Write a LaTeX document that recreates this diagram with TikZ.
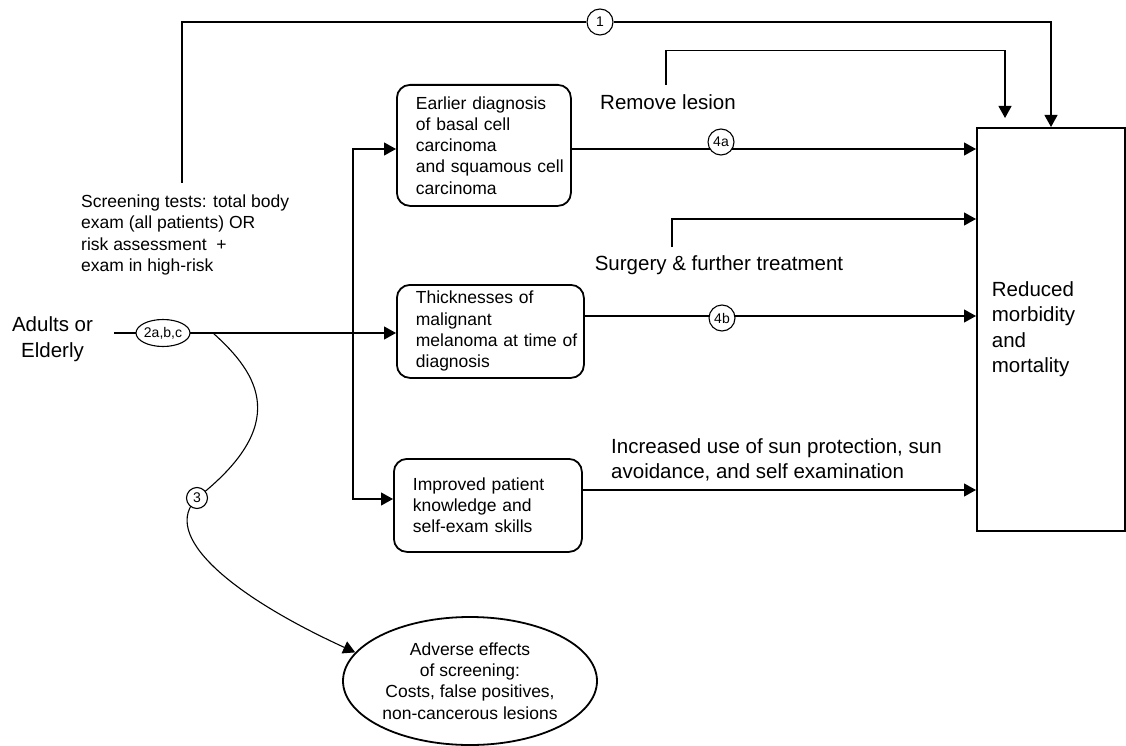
\documentclass[tikz,border=0pt]{standalone}
\usepackage{fontspec}
\setmainfont{Liberation Sans}
\usetikzlibrary{arrows.meta,shapes.geometric}
\pgfdeclarelayer{bg}
\pgfsetlayers{bg,main}
\begin{document}
\begin{tikzpicture}[x=1pt,y=-1pt,
  conn/.style={line width=1.1pt},
  arr/.style={conn,-{Triangle[length=12pt,width=13pt]}},
  big/.style={font=\fontsize{20.5}{25.5}\selectfont,inner sep=0pt},
  med/.style={font=\fontsize{17.5}{21.3}\selectfont,inner sep=0pt},
  box/.style={draw,line width=1.8pt,rounded corners=13pt,anchor=north west,align=left,med,inner xsep=19pt,inner ysep=0pt},
  num/.style={draw,circle,fill=white,line width=1.1pt,inner sep=0pt,minimum size=26pt,font=\fontsize{14}{14}\selectfont},
]
\useasboundingbox (0,0) rectangle (1126,746);

% boxes
\node[box,text width=136pt,minimum height=121pt] (b1) at (396,84)
  {Earlier diagnosis\\of basal cell\\carcinoma\\\mbox{and squamous cell}\\carcinoma};
\node[box,text width=149pt,minimum height=93pt] (b2) at (396,284)
  {Thicknesses of\\malignant\\\mbox{melanoma at time of}\\diagnosis};
\node[box,text width=150pt,minimum height=93pt] (b3) at (393,458)
  {Improved patient\\knowledge and\\self-exam skills};
\node[draw,line width=1.8pt,anchor=north west,big,minimum width=148pt,minimum height=403pt,
      text width=118pt,inner xsep=15pt,align=left] (red) at (976,127)
  {Reduced\\morbidity\\and\\mortality};
\node[draw,ellipse,line width=1.8pt,minimum width=254pt,minimum height=128pt,med,align=center] (adv) at (470,681)
  {Adverse effects\\of screening:\\Costs, false positives,\\non-cancerous lesions};

% texts
\node[med,align=left,anchor=west] (screen) at (81,235)
  {Screening tests: total body\\exam (all patients) OR\\risk assessment\ \ +\\exam in high-risk};
\node[big,align=center] (adults) at (52.5,339) {Adults or\\Elderly};
\node[big] (remove) at (668,102) {Remove lesion};
\node[big] (surg) at (719,265) {Surgery \& further treatment};
\node[big,align=left,anchor=west] (incr) at (611,460)
  {Increased use of sun protection, sun\\avoidance, and self examination};

% numbered markers
\node[draw,ellipse,fill=white,line width=1.1pt,minimum width=52pt,minimum height=27pt,inner sep=0pt,
      font=\fontsize{14}{14}\selectfont] (c2) at (163,333) {2a,b,c};
\node[num] (c1) at (600,22) {1};
\node[num] (c4a) at (721,142) {4a};
\node[num] (c4b) at (722,318) {4b};
\node[num,minimum size=21pt] (c3) at (197,498) {3};

\coordinate (s1) at (182,183);
\coordinate (jn) at (353,333);
\coordinate (cs) at (213,333);

\begin{pgfonlayer}{bg}
\draw[arr] (s1) |- (c1) -| (red.north -| 1051,0);
\draw[arr,shorten >=9pt] ([xshift=-2pt,yshift=9.5pt]remove.north) -- ++(0,-34) -| (red.north -| 1005,0);
\draw[arr] ([xshift=-47pt,yshift=8pt]surg.north) |- (red.west |- 0,219);
\draw[arr] ([xshift=21pt]adults.east |- c2) -- (c2 -| b2.west);
\draw[arr] (jn) |- (b1.west |- 0,149);
\draw[arr] (jn) |- (b3.west |- 0,499);
\draw[arr] (b1.east |- 0,149) -- (red.west |- 0,149);
\draw[arr] (b2.east |- 0,316) -- (red.west |- 0,316);
\draw[arr] (b3.east |- 0,490) -- (red.west |- 0,490);
\draw[arr] (cs) .. controls (260,375) and (290,425) .. (c3.center)
  .. controls (160,535) and (230,595) .. (adv.166);
\end{pgfonlayer}
\end{tikzpicture}
\end{document}
